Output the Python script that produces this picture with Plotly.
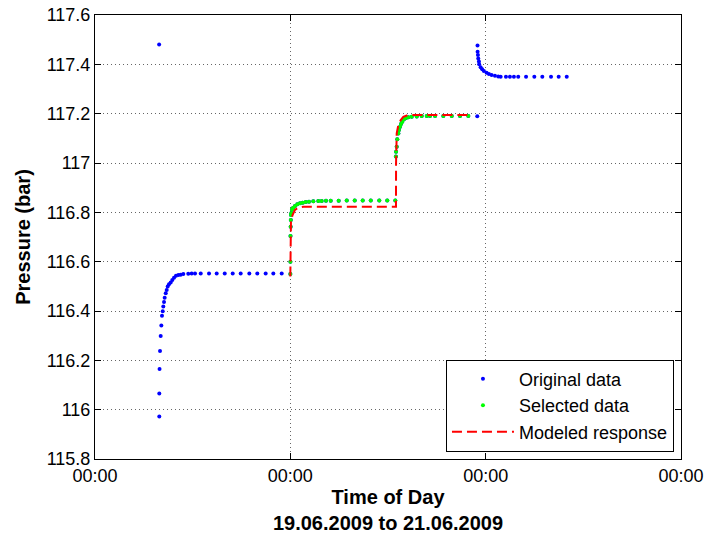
import pandas as pd
import plotly.graph_objects as go

# ---- data (hours after 19.06.2009 00:00) ----
orig_hours = [
    7.88, 7.90, 7.90, 7.93, 7.99, 8.07, 8.15, 8.23, 8.32, 8.39, 8.48, 8.56, 8.69, 8.81,
    8.93, 9.09, 9.30, 9.50, 9.71, 9.95, 10.24, 10.53, 10.85, 11.46, 11.88, 12.29,
    12.99, 14.01, 14.95, 15.94, 16.92, 17.90, 18.96, 19.94, 20.97, 21.91, 22.94,
    # selected block 1
    24.00, 24.01, 24.02, 24.04, 24.06, 24.08, 24.12, 24.20, 24.29, 24.37, 24.57, 24.86,
    25.19, 25.52, 25.89, 26.29, 26.82, 27.44, 27.85, 28.38, 28.96, 29.94, 30.93, 31.91,
    32.89, 33.88, 34.93, 35.91, 36.90,
    # selected block 2
    36.97, 36.99, 37.07, 37.14, 37.27, 37.35, 37.48, 37.60, 37.76, 37.97, 38.21, 38.50,
    38.91, 39.53, 40.14, 40.76, 41.16, 41.78, 42.80, 43.83, 44.85, 45.87,
    # after
    46.97, 47.00, 47.01, 47.05, 47.09, 47.17, 47.20, 47.38, 47.57, 47.78, 48.11, 48.40,
    48.73, 49.14, 49.55, 49.84, 50.49, 50.98, 51.47, 52.00, 52.96, 53.98, 54.96, 56.03,
    56.97, 57.96,
]
orig_values = [
    117.480, 115.972, 116.066, 116.165, 116.238, 116.299, 116.341, 116.381, 116.399,
    116.418, 116.436, 116.454, 116.472, 116.485, 116.499, 116.508, 116.516, 116.526,
    116.535, 116.543, 116.546, 116.547, 116.550, 116.551, 116.552, 116.552, 116.552,
    116.552, 116.552, 116.552, 116.552, 116.552, 116.552, 116.552, 116.552, 116.552,
    116.552,
    116.550, 116.600, 116.704, 116.742, 116.769, 116.789, 116.796, 116.810, 116.816,
    116.819, 116.826, 116.833, 116.837, 116.839, 116.842, 116.843, 116.845, 116.846,
    116.846, 116.847, 116.847, 116.847, 116.848, 116.848, 116.848, 116.848, 116.848,
    116.848, 116.848,
    117.026, 117.046, 117.066, 117.096, 117.120, 117.134, 117.147, 117.158, 117.167,
    117.177, 117.182, 117.185, 117.188, 117.189, 117.191, 117.191, 117.191, 117.191,
    117.191, 117.191, 117.191, 117.191,
    117.190, 117.476, 117.451, 117.438, 117.424, 117.411, 117.400, 117.388, 117.380,
    117.373, 117.366, 117.361, 117.357, 117.354, 117.351, 117.350, 117.350, 117.350,
    117.350, 117.350, 117.350, 117.350, 117.350, 117.350, 117.350, 117.350,
]
selected_first = 37   # index of first selected sample
selected_last = 88    # index after last selected sample

model_hours = [24.00, 24.01, 24.08, 24.29, 24.57, 24.98, 25.60, 30.00, 36.98,
               36.99, 37.07, 37.27, 37.56, 37.88, 38.50, 42.00, 46.08]
model_values = [116.540, 116.742, 116.769, 116.790, 116.810, 116.819, 116.823, 116.823, 116.823,
                117.000, 117.120, 117.154, 117.174, 117.187, 117.195, 117.195, 117.195]

y_ticks = [115.8, 116.0, 116.2, 116.4, 116.6, 116.8, 117.0, 117.2, 117.4, 117.6]
y_ticktext = ["115.8", "116", "116.2", "116.4", "116.6", "116.8", "117", "117.2", "117.4", "117.6"]

base = pd.Timestamp("2009-06-19 00:00")
def to_time(hours):
    return [base + pd.Timedelta(hours=h) for h in hours]

sel_hours = orig_hours[selected_first:selected_last]
sel_values = orig_values[selected_first:selected_last]

FONT = "Liberation Sans, Arial, sans-serif"

fig = go.Figure()
fig.add_trace(go.Scatter(x=to_time(orig_hours), y=orig_values, mode="markers",
                         name="Original data",
                         marker=dict(color="#0000ff", size=4, symbol="circle")))
fig.add_trace(go.Scatter(x=to_time(sel_hours), y=sel_values, mode="markers",
                         name="Selected data",
                         marker=dict(color="#00ff00", size=4, symbol="circle")))
fig.add_trace(go.Scatter(x=to_time(model_hours), y=model_values, mode="lines",
                         name="Modeled response",
                         line=dict(color="#ff0000", width=2, dash="10px,5px")))

fig.update_layout(
    width=712, height=539,
    margin=dict(l=95, r=31, t=15, b=80),
    paper_bgcolor="white", plot_bgcolor="white",
    font=dict(family=FONT, size=18, color="black"),
    legend=dict(x=0.988, y=0.0165, xanchor="right", yanchor="bottom",
                bgcolor="white", bordercolor="black", borderwidth=1,
                font=dict(size=18), tracegroupgap=0, itemwidth=62),
    showlegend=True,
)
fig.update_xaxes(
    type="date",
    range=[base, base + pd.Timedelta(days=3)],
    dtick=86400000, tick0=base, tickformat="%H:%M",
    showline=True, linecolor="black", linewidth=1, mirror="ticks",
    ticks="inside", ticklen=6, tickcolor="black",
    showgrid=True, gridcolor="rgba(0,0,0,0.6)", griddash="1px,3px", gridwidth=1,
    zeroline=False, automargin=False,
    title=dict(text="<b>Time of Day</b><br><b>19.06.2009 to 21.06.2009</b>",
               font=dict(size=20), standoff=5),
)
fig.update_yaxes(
    range=[115.8, 117.6],
    tickvals=y_ticks, ticktext=y_ticktext,
    showline=True, linecolor="black", linewidth=1, mirror="ticks",
    ticks="inside", ticklen=6, tickcolor="black",
    showgrid=True, gridcolor="rgba(0,0,0,0.6)", griddash="1px,3px", gridwidth=1,
    zeroline=False, automargin=False,
    title=dict(text="<b>Pressure (bar)</b>", font=dict(size=20), standoff=10),
)

fig.write_html("out.html", config={"displayModeBar": False},
               post_script="document.body.style.margin='0';document.body.style.padding='0';")
